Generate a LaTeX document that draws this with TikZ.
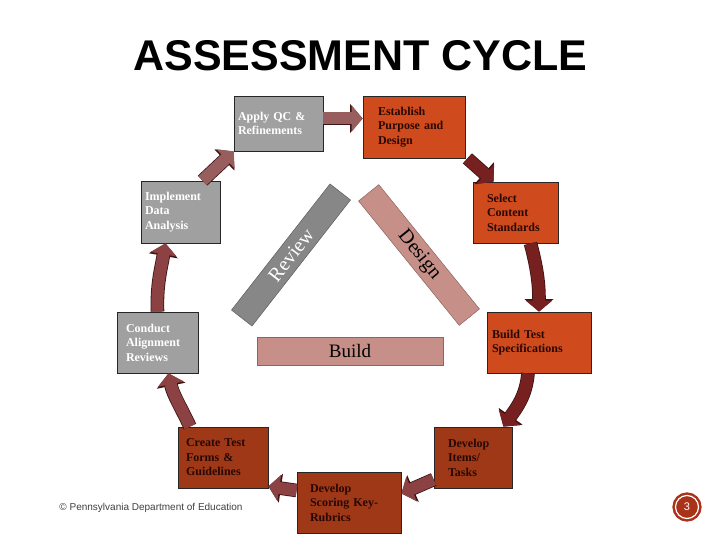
\documentclass[tikz,border=0pt]{standalone}
\usepackage{fontspec}
\setmainfont{Liberation Serif}
\setsansfont{Liberation Sans}
\usepackage{tikz}
\usetikzlibrary{arrows.meta}

\definecolor{qcgray}{RGB}{160,160,160}
\definecolor{stageorange}{RGB}{207,74,28}
\definecolor{stagebrown}{RGB}{158,56,22}
\definecolor{inkdark}{RGB}{40,8,4}
\definecolor{arrowlight}{RGB}{152,94,94}
\definecolor{arrowmid}{RGB}{140,66,66}
\definecolor{arrowdark}{RGB}{118,32,32}
\definecolor{arrowedge}{RGB}{60,20,20}
\definecolor{reviewgray}{RGB}{135,135,135}
\definecolor{designrose}{RGB}{198,144,136}
\definecolor{pagered}{RGB}{170,50,25}

\begin{document}
\begin{tikzpicture}[x=1pt, y=1pt,
    stage/.style={rectangle, draw=black!85, line width=0.8pt, fill=#1, align=left,
                  font=\bfseries\fontsize{12}{14.5}\selectfont, minimum height=61pt, text=inkdark},
    bar/.style={rectangle, fill=#1, draw=#1!70!black, line width=0.5pt, inner ysep=0pt,
                minimum height=26pt, font=\fontsize{20}{24}\selectfont},
    flow/.style={line width=12pt, draw=#1, -{Triangle[width=26pt,length=11pt]},
                 preaction={draw=arrowedge, line width=13.6pt, -{Triangle[width=28.5pt,length=12.6pt]}}},
    pagenum/.style={circle, minimum size=23pt, inner sep=0pt, fill=pagered, draw=pagered,
                    double=white, double distance=1.2pt, line width=2.5pt, text=white,
                    font=\sffamily\fontsize{11}{13}\selectfont}
]
    \fill[white] (0,0) rectangle (720,-540);
    \useasboundingbox (0,0) rectangle (720,-540);

    % Title
    \node[font=\sffamily\bfseries\fontsize{43}{50}\selectfont] (heading) at (360.5,-55.5) {ASSESSMENT CYCLE};

    % Review / Design / Build
    \node[bar=reviewgray, text=white, minimum width=160pt, rotate=52] (review) at (291,-255) {Review};
    \node[bar=designrose, minimum width=160pt, rotate=-51] (design) at (419,-255) {Design};
    \node[bar=designrose, minimum width=186pt, minimum height=28pt, font=\fontsize{19}{23}\selectfont] (build) at (350,-351) {Build};

    % Design stages
    \node[stage=stageorange, inner xsep=15pt, text width=72pt, minimum height=62pt] (est) at (414,-127) {Establish\\Purpose and\\Design};
    \node[stage=stageorange, inner xsep=14pt, text width=57pt] (sel) at (515.5,-212.5) {Select\\Content\\Standards};
    \node[stage=stageorange, inner xsep=5pt, text width=94pt] (spec) at (539,-342.5) {Build Test\\Specifications};

    % Build stages
    \node[stage=stagebrown, inner xsep=14pt, text width=50pt] (items) at (473,-457.5) {Develop\\Items/\\Tasks};
    \node[stage=stagebrown, inner xsep=13pt, text width=78pt] (score) at (349,-502.5) {Develop\\Scoring Key-\\Rubrics};
    \node[stage=stagebrown, inner xsep=8pt, text width=74pt] (forms) at (223,-457.5) {Create Test\\Forms \&\\Guidelines};

    % Review stages
    \node[stage=qcgray, text=white, inner xsep=9pt, text width=63pt] (conduct) at (157.5,-342.5) {Conduct\\Alignment\\Reviews};
    \node[stage=qcgray, text=white, inner xsep=4pt, text width=71pt, minimum height=62pt] (impl) at (180.5,-212) {Implement\\Data\\Analysis};
    \node[stage=qcgray, text=white, inner xsep=4pt, text width=81pt, minimum height=55pt] (qc) at (278.5,-123.5) {Apply QC \&\\Refinements};

    % Cycle arrows
    \draw[flow=arrowlight] ([xshift=22pt]impl.north) -- (qc.south west);
    \draw[flow=arrowlight] ([yshift=5pt]qc.east) -- ([yshift=8.5pt]est.west);
    \draw[flow=arrowdark] ([xshift=2pt]est.south east) -- ([xshift=-22pt]sel.north);
    \draw[flow=arrowdark] ([xshift=15pt]sel.south) to[out=-75, in=90] (spec.north);
    \draw[flow=arrowdark] ([xshift=-11pt]spec.south) to[out=-95, in=55] ([xshift=-9pt]items.north east);
    \draw[flow=arrowmid] ([yshift=-22pt]items.west) -- ([yshift=9pt]score.east);
    \draw[flow=arrowmid] ([yshift=12pt]score.west) -- ([yshift=2pt]forms.south east);
    \draw[flow=arrowmid] ([xshift=-33pt]forms.north) to[out=115, in=-78] ([xshift=11pt]conduct.south);
    \draw[flow=arrowmid] (conduct.north) to[out=92, in=-100] ([xshift=-15pt]impl.south);

    % Footer
    \node[font=\sffamily\fontsize{10}{12}\selectfont, text=black!75] (copyright) at (151,-508) {© Pennsylvania Department of Education};
    \node[pagenum] (page) at (687,-507) {3};
\end{tikzpicture}
\end{document}
